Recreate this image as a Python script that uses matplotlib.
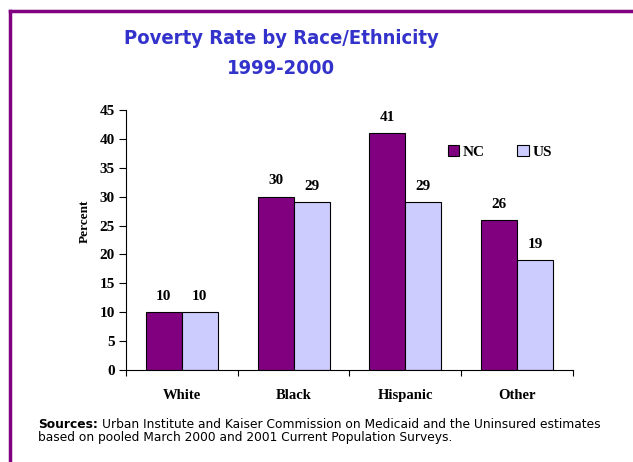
import matplotlib.pyplot as plt
import numpy as np
from matplotlib.lines import Line2D

categories = ["White", "Black", "Hispanic", "Other"]
nc_values = [10, 30, 41, 26]
us_values = [10, 29, 29, 19]
y_ticks = [0, 5, 10, 15, 20, 25, 30, 35, 40, 45]

W, H = 633, 462
fig = plt.figure(figsize=(W / 100, H / 100), dpi=100)

# purple frame: top and left edges only (picture cut on right/bottom)
fig.add_artist(Line2D([10 / W, 1], [1 - 11 / H, 1 - 11 / H], color="#800080", lw=2.5))
fig.add_artist(Line2D([10 / W, 10 / W], [1 - 11 / H, 0], color="#800080", lw=2.5))

title_kw = dict(ha="center", va="center", fontsize=14.5, fontweight="bold",
                color="#3333CC", family="DejaVu Sans", fontstretch="condensed")
fig.text(281 / W, 1 - 38 / H, "Poverty Rate by Race/Ethnicity", **title_kw)
fig.text(281 / W, 1 - 68 / H, "1999-2000", **title_kw)

ax = fig.add_axes([126 / W, 1 - 370 / H, (573 - 126) / W, (370 - 110) / H])
x = np.arange(len(categories))
bw = 0.322
serif = "Liberation Serif"
ax.bar(x - bw / 2, nc_values, bw, color="#800080", edgecolor="black", lw=0.8, label="NC")
ax.bar(x + bw / 2, us_values, bw, color="#CCCCFF", edgecolor="black", lw=0.8, label="US")

for i in range(len(categories)):
    ax.text(x[i] - bw / 2, nc_values[i] + 1.6, str(nc_values[i]), ha="center", va="bottom",
            fontsize=11, fontweight="bold", family=serif)
    ax.text(x[i] + bw / 2, us_values[i] + 1.6, str(us_values[i]), ha="center", va="bottom",
            fontsize=11, fontweight="bold", family=serif)

ax.set_xlim(-0.5, len(categories) - 0.5)
ax.set_ylim(0, 45)
ax.set_yticks(y_ticks)
ax.set_yticklabels([str(t) for t in y_ticks], fontsize=11, fontweight="bold", family=serif)
ax.set_xticks(np.arange(-0.5, len(categories)), minor=False)
ax.set_xticklabels([])
ax.set_xticks(x, minor=True)
ax.set_xticklabels(categories, minor=True, fontsize=10.5, fontweight="bold", family=serif)
ax.tick_params(axis="x", which="minor", length=0, pad=14)
ax.tick_params(axis="x", which="major", length=4, direction="out")
ax.tick_params(axis="y", length=5, direction="out", pad=3)
ax.spines["top"].set_visible(False)
ax.spines["right"].set_visible(False)
ax.set_ylabel("Percent", fontsize=9.5, fontweight="bold", family=serif)
ax.yaxis.set_label_coords(-0.078, 0.57)

leg = ax.legend(loc="center left", bbox_to_anchor=(0.72, 0.84), ncol=2, frameon=False,
                prop={"family": serif, "weight": "bold", "size": 11},
                handlelength=0.75, handleheight=0.75, handletextpad=0.25, columnspacing=2.1,
                borderaxespad=0, borderpad=0)

# sources note: bold lead-in, regular text after it
src_y = 1 - 424 / H
lead = fig.text(38 / W, src_y, "Sources:", fontsize=8.8, fontweight="bold", va="center",
                family="DejaVu Sans")
fig.canvas.draw()
bb = lead.get_window_extent().transformed(fig.transFigure.inverted())
fig.text(bb.x1 + 4 / W, src_y,
         "Urban Institute and Kaiser Commission on Medicaid and the Uninsured estimates",
         fontsize=8.8, va="center", family="DejaVu Sans")
fig.text(38 / W, 1 - 438 / H, "based on pooled March 2000 and 2001 Current Population Surveys.",
         fontsize=8.8, va="center", family="DejaVu Sans")

fig.savefig("out.png", dpi=100)
